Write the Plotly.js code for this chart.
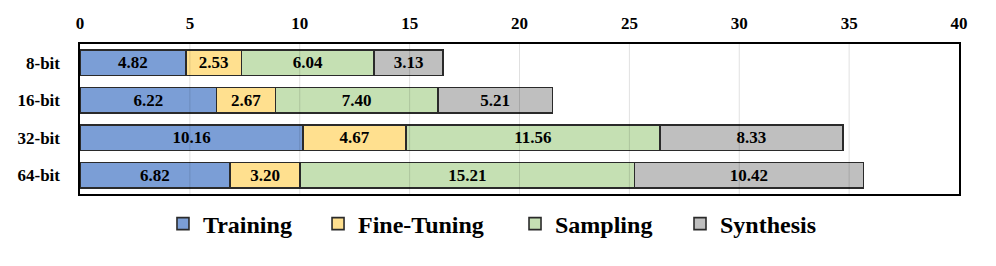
<!DOCTYPE html>
<html><head><meta charset="utf-8">
<script src="https://cdn.plot.ly/plotly-3.0.1.min.js"></script>
<style>html,body{margin:0;padding:0;background:#fff}</style>
</head><body>
<div id="chart" style="width:996px;height:266px"></div>
<script>
const categories = ["8-bit", "16-bit", "32-bit", "64-bit"];
const seriesNames = ["Training", "Fine-Tuning", "Sampling", "Synthesis"];
const training = [4.82, 6.22, 10.16, 6.82];
const fineTuning = [2.53, 2.67, 4.67, 3.20];
const sampling = [6.04, 7.40, 11.56, 15.21];
const synthesis = [3.13, 5.21, 8.33, 10.42];
const xTicks = [0, 5, 10, 15, 20, 25, 30, 35, 40];

const colors = ["#7B9ED6", "#FFE08F", "#C5E0B3", "#BFBFBF"];
const values = [training, fineTuning, sampling, synthesis];
const fontFam = "Liberation Serif";
const legendIds = ["legend", "legend2", "legend3", "legend4"];
const legendX = [0.0944, 0.2708, 0.4949, 0.6826];

const traces = values.map((v, i) => ({
  type: "bar",
  orientation: "h",
  name: seriesNames[i],
  legend: legendIds[i],
  y: categories,
  x: v,
  marker: {color: colors[i], line: {color: "#2a2a2a", width: 1.6}},
  text: v.map(d => d.toFixed(2)),
  textposition: "inside",
  insidetextanchor: "middle",
  textangle: 0,
  textfont: {family: fontFam, size: 17, color: "#000", weight: "bold"},
  hoverinfo: "none"
}));

// faint grid lines drawn above the bars, one per x tick
const gridShapes = xTicks.slice(1, -1).map(t => ({
  type: "line", layer: "above",
  xref: "x", yref: "paper",
  x0: t, x1: t, y0: 0, y1: 1,
  line: {color: "rgba(0,0,0,0.12)", width: 1}
}));

const layout = {
  width: 996, height: 266,
  margin: {l: 80, r: 37, t: 44, b: 72},
  barmode: "stack",
  bargap: 0.33,
  paper_bgcolor: "#fff",
  plot_bgcolor: "#fff",
  font: {family: fontFam, size: 17, color: "#000", weight: "bold"},
  shapes: gridShapes,
  xaxis: {
    side: "top",
    range: [0, 40],
    tickvals: xTicks,
    ticktext: xTicks.map(String),
    showgrid: false,
    zeroline: false,
    showline: true, linecolor: "#000", linewidth: 1.6, mirror: true,
    ticks: "", ticklen: 0,
    ticklabelstandoff: 7,
    tickfont: {family: fontFam, size: 17, color: "#000", weight: "bold"},
    fixedrange: true
  },
  yaxis: {
    autorange: "reversed",
    showline: true, linecolor: "#000", linewidth: 1.6, mirror: true,
    ticks: "", showgrid: false,
    ticklabelstandoff: 15,
    tickfont: {family: fontFam, size: 17, color: "#000", weight: "bold"},
    fixedrange: true
  },
  showlegend: true
};

legendIds.forEach((id, i) => {
  layout[id] = {
    orientation: "h",
    x: legendX[i], xanchor: "left",
    y: -0.2, yanchor: "middle",
    font: {family: fontFam, size: 24, color: "#000", weight: "bold"},
    bgcolor: "rgba(0,0,0,0)",
    itemwidth: 30
  };
});

Plotly.newPlot("chart", traces, layout, {displayModeBar: false, staticPlot: true});
</script>
</body></html>
